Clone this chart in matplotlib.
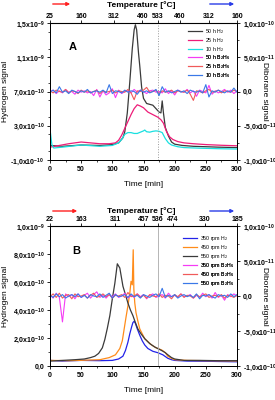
import numpy as np
import matplotlib.pyplot as plt
from matplotlib.ticker import MultipleLocator

plt.rcParams['font.family'] = ['Liberation Sans', 'DejaVu Sans']
plt.rcParams['font.weight'] = 'bold'
plt.rcParams['mathtext.fontset'] = 'custom'
plt.rcParams['mathtext.rm'] = 'Liberation Sans:bold'
plt.rcParams['mathtext.bf'] = 'Liberation Sans:bold'
plt.rcParams['mathtext.default'] = 'regular'

# ---- panel A : hydrogen (left axis, x1e-10) ----
a_t_50h = [0, 20, 50, 80, 100, 110, 117, 120, 124, 128, 132, 135, 137, 139, 142, 144, 147, 150,
           155, 160, 165, 170, 175, 178, 180, 182, 185, 190, 195, 200, 212, 230, 250, 270, 300]
a_h2_50h = [0.7, 0.6, 0.75, 0.7, 0.8, 1.0, 1.6, 2.3, 4.5, 8.1, 12.0, 14.2, 14.8, 14.2, 11.5, 10.0, 7.5, 6.2,
            5.6, 5.5, 5.4, 5.0, 4.6, 4.5, 5.9, 4.5, 2.8, 1.8, 1.1, 0.85, 0.7, 0.6, 0.55, 0.5, 0.45]
a_t_25h = [0, 15, 30, 50, 65, 80, 95, 105, 110, 115, 120, 125, 130, 135, 140, 145, 150, 157, 165, 173,
           178, 182, 187, 192, 197, 205, 215, 230, 250, 275, 300]
a_h2_25h = [0.5, 0.7, 0.9, 1.1, 1.0, 0.9, 0.9, 1.0, 1.3, 1.9, 2.7, 3.5, 4.3, 5.0, 5.45, 5.3, 5.1, 4.6, 4.3, 4.0,
            3.7, 3.3, 2.3, 1.7, 1.4, 1.15, 1.0, 0.9, 0.8, 0.72, 0.66]
a_t_10h = [0, 1, 3, 6, 20, 50, 80, 100, 110, 115, 120, 125, 130, 135, 140, 145, 150, 152, 155, 160,
           165, 170, 175, 180, 185, 190, 195, 205, 215, 240, 270, 300]
a_h2_10h = [2.6, 2.0, 0.8, 0.4, 0.5, 0.75, 0.6, 0.7, 1.0, 1.4, 2.0, 2.2, 2.2, 2.1, 2.1, 2.25, 2.4, 2.5, 2.3, 2.25,
            2.35, 2.4, 2.35, 2.2, 1.5, 1.0, 0.75, 0.55, 0.45, 0.38, 0.32, 0.28]

# panel A : diborane (right axis, x1e-12), one value every 5 min
a_b2h6_50h = [0, 2, -3, 1, -2, 3, -1, 0, -4, 2, -1, 1, -2, 0, -6, 3, -8, 1, -5, -2,
              4, -9, 2, -3, 0, 1, -2, 3, -1, 2, 0, -3, 1, 2, -1, 0, -2, 4, -3, 1,
              -5, 2, 0, -1, 3, -2, 1, -7, 2, 0, -2, 9, -4, 1, -2, 0, 3, -1, 2, -3, 1]
a_b2h6_25h = [1, -2, 2, 0, -1, 3, -2, 1, 0, -3, 2, -1, 1, -2, 0, 2, -3, 1, -1, 0,
              2, -2, 1, 0, -1, 3, -2, -12, 1, 0, 2, 6, -1, 0, 2, -3, 1, -1, 0, 2,
              -2, 1, 0, -1, 2, -4, -13, 1, 0, -2, 1, 3, -1, 0, 2, -2, 1, 0, -1, 2, 0]
a_b2h6_10h = [-1, 2, -2, 7, -1, 1, -3, 2, 0, -2, 1, -1, 3, -2, 0, 1, -1, 2, -2, 10,
              -3, 1, 0, -2, 2, -1, 1, 0, -4, 2, -1, 1, -2, 0, 3, -6, 7, -1, 1, -2,
              0, 2, -1, 1, -3, 2, 0, -1, 1, -2, 10, -8, 1, -1, 2, 0, -2, 1, -1, 5, -1]

# ---- panel B : hydrogen (left axis, x1e-10) ----
b_t_550 = [0, 20, 40, 55, 65, 72, 78, 84, 88, 92, 96, 100, 104, 108, 112, 117, 121, 125, 129, 133,
           137, 141, 146, 152, 160, 168, 175, 181, 185, 189, 195, 200, 215, 240, 270, 300]
b_h2_550 = [0.35, 0.4, 0.45, 0.5, 0.6, 0.7, 0.9, 1.3, 1.9, 2.7, 3.6, 4.8, 5.9, 7.3, 7.0, 5.7, 5.1, 4.5, 4.0, 3.6,
            3.1, 2.65, 2.3, 1.95, 1.6, 1.36, 1.2, 1.06, 0.95, 0.8, 0.6, 0.5, 0.4, 0.4, 0.38, 0.38]
b_t_450 = [0, 30, 60, 80, 95, 105, 112, 116, 119, 122, 125, 128, 130, 132, 133.5, 134.5, 136, 138, 141, 144,
           148, 152, 158, 163, 170, 179, 185, 189, 195, 200, 220, 250, 300]
b_h2_450 = [0.4, 0.38, 0.42, 0.45, 0.6, 0.8, 1.25, 1.8, 2.65, 3.5, 4.3, 5.2, 6.05, 5.8, 8.3, 5.5, 4.5, 3.8, 3.2, 2.65,
            2.3, 1.95, 1.7, 1.5, 1.3, 1.15, 0.95, 0.7, 0.55, 0.45, 0.4, 0.38, 0.36]
b_t_350 = [0, 0.5, 20, 50, 80, 100, 110, 117, 121, 125, 128, 131, 133, 135, 137, 140, 144, 148, 152, 157,
           165, 173, 181, 189, 195, 200, 220, 260, 300]
b_h2_350 = [11.0, 0.4, 0.35, 0.4, 0.38, 0.4, 0.5, 0.7, 1.1, 1.7, 2.3, 2.8, 3.1, 3.2, 3.05, 2.65, 2.2, 1.8, 1.5, 1.25,
            1.05, 0.95, 0.8, 0.55, 0.45, 0.4, 0.35, 0.33, 0.3]

# panel B : diborane (right axis, x1e-12), one value every 5 min
b_b2h6_350 = [2, -3, 4, -2, -37, 3, -1, 2, -4, 3, -2, 1, 4, -3, 2, 6, -2, 1, -3, 2,
              -1, 3, -2, 0, 4, -3, 1, -2, 3, -1, 2, -4, 1, 3, -2, 0, 2, -3, 4, -1,
              1, -2, 3, -1, 0, 2, -3, 1, -2, 4, -1, 2, -3, 5, -2, 1, -6, 2, -1, 3, 0]
b_b2h6_450 = [-1, 3, -2, 4, -3, 1, 2, -4, 3, -1, 0, 2, -3, 1, 4, -2, 0, 3, -1, 2,
              -3, 1, 0, 2, -2, 5, -1, 0, 3, -2, 1, -3, 2, 0, -1, 3, -2, 1, 0, -4,
              2, -1, 3, -2, 1, 0, -3, 2, -1, 1, 3, -2, 0, 1, -1, 2, -3, 1, 0, -2, 1]
b_b2h6_550 = [1, -2, 3, -1, 2, -3, 0, 2, -1, 3, -2, 1, -3, 2, 0, -1, 3, -2, 1, 4,
              -3, 2, -1, 0, 2, -2, 3, -1, 1, -3, 2, 0, -2, 1, 3, -1, 11, -2, 1, -1,
              2, -3, 0, 2, -1, 1, -2, 3, -4, 1, 0, 2, -1, -3, 2, 0, 1, -2, 3, -1, 2]

# ticks / labels
x_ticks = [0, 50, 100, 150, 200, 250, 300]
a_left_ticks = [-1e-10, 3e-10, 7e-10, 1.1e-9, 1.5e-9]
a_left_labels = ['-1,0x10$^{-10}$', '3,0x10$^{-10}$', '7,0x10$^{-10}$', '1,1x10$^{-9}$', '1,5x10$^{-9}$']
b_left_ticks = [0, 2e-10, 4e-10, 6e-10, 8e-10, 1e-9]
b_left_labels = ['0,0', '2,0x10$^{-10}$', '4,0x10$^{-10}$', '6,0x10$^{-10}$', '8,0x10$^{-10}$', '1,0x10$^{-9}$']
right_ticks = [-1e-10, -5e-11, 0, 5e-11, 1e-10]
right_labels = ['-1,0x10$^{-10}$', '-5,0x10$^{-11}$', '0,0', '5,0x10$^{-11}$', '1,0x10$^{-10}$']
a_top_t = [0, 50, 102, 148, 173, 208, 255, 300]
a_top_lab = ['25', '160', '312', '460', '533', '460', '312', '160']
b_top_t = [0, 50, 105, 151, 173, 197, 248, 300]
b_top_lab = ['22', '163', '311', '457', '536', '474', '330', '185']
t_max = 173

W, H = 275, 400
fig = plt.figure(figsize=(2.75, 4.0), dpi=100)


def fx(x):
    return x / W


def fy(y):
    return 1 - y / H


def setup(ax, axr, lticks, llabels, lmin, top_t, top_lab):
    ax.set_xlim(0, 300)
    ax.set_xticks(x_ticks)
    ax.xaxis.set_minor_locator(MultipleLocator(25))
    ax.set_yticks(lticks, llabels)
    ax.yaxis.set_minor_locator(MultipleLocator(lmin))
    axr.set_yticks(right_ticks, right_labels)
    axr.yaxis.set_minor_locator(MultipleLocator(2.5e-11))
    axr.set_ylim(-1e-10, 1e-10)
    for a in (ax, axr):
        a.tick_params(labelsize=5, length=2.5, width=0.6, pad=1.5)
        a.tick_params(which='minor', length=1.5, width=0.5)
        for s in a.spines.values():
            s.set_linewidth(0.7)
    sec = ax.secondary_xaxis('top')
    sec.set_xticks(top_t, top_lab)
    sec.tick_params(labelsize=5, length=2, width=0.6, pad=0.5)
    ax.set_xlabel('Time [min]', fontsize=6, labelpad=6)
    ax.set_ylabel('Hydrogen signal', fontsize=6)
    ax.yaxis.set_label_coords(-0.22, 0.5)
    axr.set_ylabel('Diborane signal', fontsize=6, rotation=270)
    axr.yaxis.set_label_coords(1.165, 0.5)


# ---------------- panel A ----------------
axA = fig.add_axes([fx(50), fy(160), 187 / W, 137 / H])
axAr = axA.twinx()
h1, = axA.plot(a_t_50h, np.array(a_h2_50h) * 1e-10, color='#3a3a3a', lw=0.9, label='50 h H$_2$')
h2, = axA.plot(a_t_25h, np.array(a_h2_25h) * 1e-10, color='#ee1c78', lw=0.9, label='25 h H$_2$')
h3, = axA.plot(a_t_10h, np.array(a_h2_10h) * 1e-10, color='#19e0e0', lw=0.9, label='10 h H$_2$')
axA.axvline(t_max, color='#999999', lw=0.7, ls=':')
axA.set_ylim(-1e-10, 1.5e-9)
ta = np.linspace(0, 300, len(a_b2h6_50h))
d1, = axAr.plot(ta, np.array(a_b2h6_50h) * 1e-12, color='#f53cf5', lw=0.8, label='50 h B$_2$H$_6$')
d2, = axAr.plot(ta, np.array(a_b2h6_25h) * 1e-12, color='#f05a5a', lw=0.8, label='25 h B$_2$H$_6$')
d3, = axAr.plot(ta, np.array(a_b2h6_10h) * 1e-12, color='#3a78e8', lw=0.8, label='10 h B$_2$H$_6$')
setup(axA, axAr, a_left_ticks, a_left_labels, 2e-10, a_top_t, a_top_lab)
axA.text(0.1, 0.8, 'A', transform=axA.transAxes, fontsize=8)

# ---------------- panel B ----------------
axB = fig.add_axes([fx(50), fy(366), 187 / W, 140 / H])
axBr = axB.twinx()
g1, = axB.plot(b_t_350, np.array(b_h2_350) * 1e-10, color='#2323e8', lw=0.9, label='350 rpm H$_2$')
g2, = axB.plot(b_t_450, np.array(b_h2_450) * 1e-10, color='#ff8c1a', lw=0.9, label='450 rpm H$_2$')
g3, = axB.plot(b_t_550, np.array(b_h2_550) * 1e-10, color='#3a3a3a', lw=0.9, label='550 rpm H$_2$')
axB.axvline(t_max, color='#aaaaaa', lw=0.6)
axB.set_ylim(0, 1e-9)
tb = np.linspace(0, 300, len(b_b2h6_350))
e1, = axBr.plot(tb, np.array(b_b2h6_350) * 1e-12, color='#f53cf5', lw=0.8, label='350 rpm B$_2$H$_6$')
e2, = axBr.plot(tb, np.array(b_b2h6_450) * 1e-12, color='#f05a5a', lw=0.8, label='450 rpm B$_2$H$_6$')
e3, = axBr.plot(tb, np.array(b_b2h6_550) * 1e-12, color='#3a78e8', lw=0.8, label='550 rpm B$_2$H$_6$')
setup(axB, axBr, b_left_ticks, b_left_labels, 1e-10, b_top_t, b_top_lab)
axB.text(0.12, 0.8, 'B', transform=axB.transAxes, fontsize=8)

# legends
leg_kw = dict(frameon=False, handlelength=2.8, handletextpad=0.5, handleheight=0.5,
              labelspacing=0.02, borderpad=0, loc='upper left', bbox_transform=fig.transFigure,
              prop={'size': 3.8, 'weight': 'normal'})
for ax, hs, x0, y0 in [(axAr, [h1, h2, h3], 185, 24), (axAr, [d1, d2, d3], 185, 50),
                       (axBr, [g1, g2, g3], 180, 231), (axBr, [e1, e2, e3], 180, 258)]:
    lg = ax.legend(handles=hs, bbox_to_anchor=(fx(x0), fy(y0)), **leg_kw)
    ax.add_artist(lg)

# temperature title and arrows
for y_txt, y_arr, red_end in [(5, 4, 73), (211, 211, 80)]:
    fig.text(fx(141), fy(y_txt), 'Temperature [°C]', fontsize=6, ha='center', va='center')
    fig.add_artist(plt.Annotation('', xy=(fx(red_end), fy(y_arr)), xytext=(fx(50), fy(y_arr)),
                                  xycoords='figure fraction',
                                  arrowprops=dict(arrowstyle='-|>', color='#ff2020', lw=1.0,
                                                  mutation_scale=5)))
    fig.add_artist(plt.Annotation('', xy=(fx(237), fy(y_arr)), xytext=(fx(207), fy(y_arr)),
                                  xycoords='figure fraction',
                                  arrowprops=dict(arrowstyle='-|>', color='#2a3ce8', lw=1.0,
                                                  mutation_scale=5)))

fig.savefig('out.png', dpi=100)
